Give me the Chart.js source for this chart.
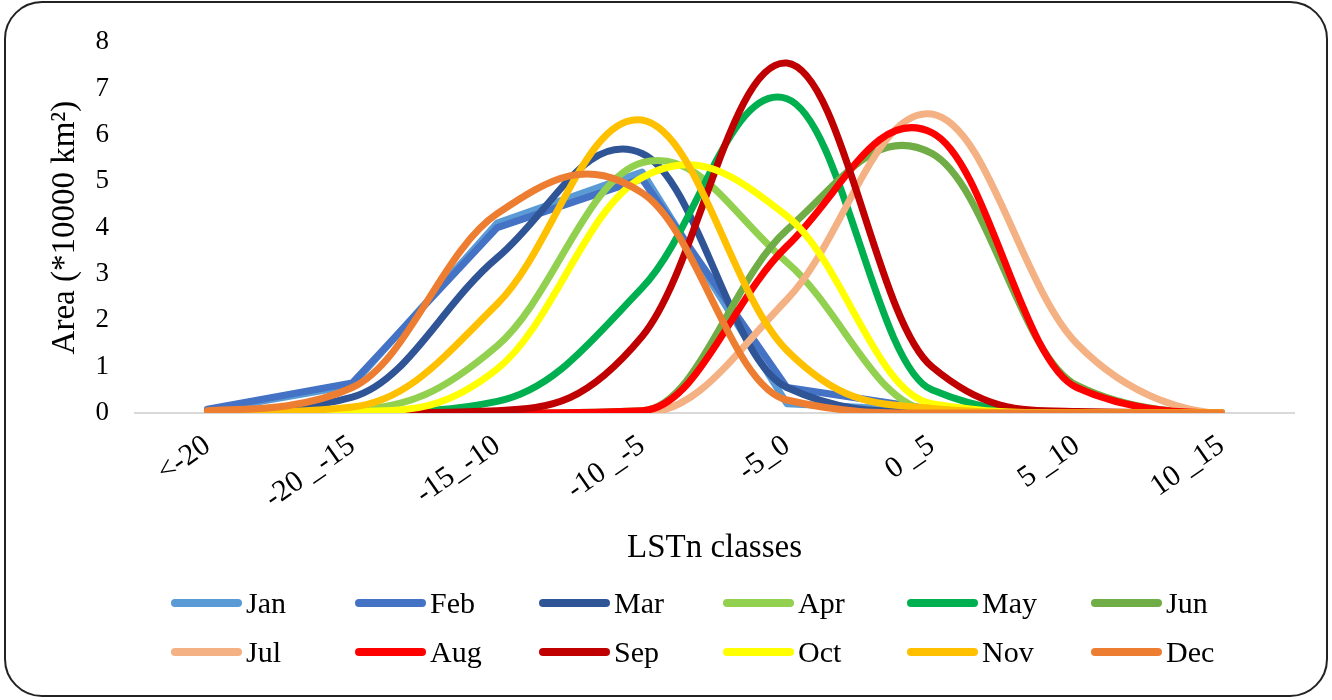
<!DOCTYPE html>
<html><head><meta charset="utf-8">
<script src="https://cdn.jsdelivr.net/npm/chart.js@4.4.1/dist/chart.umd.min.js"></script>
<style>
html,body{margin:0;padding:0;background:#fff;}
#wrap{position:relative;width:1332px;height:700px;overflow:hidden;background:#fff;}
#frame{position:absolute;left:4px;top:1px;width:1320px;height:692px;border:2px solid #222;border-radius:38px;pointer-events:none;}
#c{position:absolute;left:0;top:0;}
#legend{position:absolute;left:0;top:0;width:1332px;height:700px;font-family:"Liberation Serif",serif;font-size:30px;color:#000;pointer-events:none;}
.item{position:absolute;display:flex;align-items:center;height:36px;white-space:nowrap;}
.sw{width:71px;height:8px;border-radius:4px;margin-right:4px;}
</style></head>
<body><div id="wrap"><canvas id="c" width="1332" height="573"></canvas><div id="legend"></div><div id="frame"></div></div>
<script>
const categories = ['<-20', '-20 _-15', '-15_-10', '-10 _-5', '-5_0', '0 _5', '5 _10', '10 _15'];
const months = ['Jan','Feb','Mar','Apr','May','Jun','Jul','Aug','Sep','Oct','Nov','Dec'];
const jan = [0.05, 0.6, 4.1, 5.2, 0.2, 0.05, 0, 0];
const feb = [0.08, 0.65, 4.0, 5.05, 0.55, 0.08, 0, 0];
const mar = [0.03, 0.34, 3.35, 5.6, 0.55, 0.02, 0, 0];
const apr = [0, 0.06, 1.45, 5.4, 3.25, 0.05, 0, 0];
const may = [0, 0.02, 0.25, 2.7, 6.78, 0.5, 0, 0];
const jun = [0, 0, 0, 0.05, 3.95, 5.6, 0.6, 0];
const jul = [0, 0, 0, 0, 2.45, 6.45, 1.5, 0];
const aug = [0, 0, 0, 0.05, 3.6, 6.05, 0.55, 0];
const sep = [0, 0, 0.05, 1.65, 7.55, 1.0, 0.03, 0];
const oct = [0, 0.03, 0.95, 5.08, 4.25, 0.2, 0, 0];
const nov = [0, 0.13, 2.35, 6.32, 1.35, 0.1, 0, 0];
const dec = [0.05, 0.55, 4.3, 4.75, 0.28, 0, 0, 0];
const yTicks = [0, 1, 2, 3, 4, 5, 6, 7, 8];
const seriesValues = [jan, feb, mar, apr, may, jun, jul, aug, sep, oct, nov, dec];
const colors = ['#5B9BD5','#4472C4','#2F5597','#92D050','#00B050','#70AD47','#F4B183','#FF0000','#C00000','#FFFF00','#FFC000','#ED7D31'];
const straight = ['Jan','Feb'];

const FONT = '"Liberation Serif", "Times New Roman", serif';
const SMOOTH = 1.15; // Catmull-Rom style smoothing like a spreadsheet "smoothed line"

const datasets = months.map((m, i) => ({
  label: m,
  data: seriesValues[i],
  borderColor: colors[i],
  backgroundColor: colors[i],
  borderWidth: 7,
  pointRadius: 0,
  pointHoverRadius: 0,
  fill: false,
  tension: straight.includes(m) ? 0 : 0.4,
  borderCapStyle: 'round',
  borderJoinStyle: 'round',
  order: months.length - i
}));

// Recompute the bezier control points of the library's own points uniformly (Catmull-Rom),
// flattening the tangent where needed so the curve never sinks below the zero line.
const uniformSmooth = {
  id: 'uniformSmooth',
  beforeDatasetDraw(chart, args) {
    const meta = args.meta;
    const ds = chart.data.datasets[args.index];
    if (!ds.tension || !meta.dataset) return;
    const area = chart.chartArea;
    meta.dataset.updateControlPoints(area, meta.indexAxis);
    const pts = meta.data;
    const n = pts.length;
    const k = SMOOTH / 6;
    const bottom = area.bottom;
    for (let i = 0; i < n; i++) {
      const p = pts[i];
      const a = pts[Math.max(i - 1, 0)];
      const b = pts[Math.min(i + 1, n - 1)];
      const tx = k * (b.x - a.x);
      let ty = k * (b.y - a.y);
      if (ty !== 0) {
        const room = Math.max(bottom - p.y, 0);
        const s = Math.min(1, room / Math.abs(ty));
        ty *= s;
      }
      p.cp1x = p.x - tx; p.cp1y = p.y - ty;
      p.cp2x = p.x + tx; p.cp2y = p.y + ty;
    }
    meta.dataset._path = undefined;
  }
};

const chart = new Chart(document.getElementById('c'), {
  type: 'line',
  data: { labels: categories, datasets },
  plugins: [uniformSmooth],
  options: {
    responsive: false,
    animation: false,
    events: [],
    layout: { padding: { top: 37, right: 38, left: 0, bottom: 0 } },
    plugins: { legend: { display: false }, tooltip: { enabled: false } },
    scales: {
      x: {
        offset: true,
        grid: { display: false, drawTicks: false },
        border: { display: true, color: '#D9D9D9', width: 2 },
        ticks: {
          autoSkip: false, minRotation: 35, maxRotation: 35, padding: 15,
          color: '#000', font: { family: FONT, size: 30 }
        },
        title: {
          display: true, text: 'LSTn classes', color: '#000',
          font: { family: FONT, size: 33 }, padding: { top: 0, bottom: 5 }
        },
        afterFit: (s) => { s.height = 160; }
      },
      y: {
        min: 0, max: 8,
        afterBuildTicks: (s) => { s.ticks = yTicks.map(v => ({ value: v })); },
        grid: { display: false, drawTicks: false },
        border: { display: false },
        ticks: { padding: 26, color: '#000', font: { family: FONT, size: 27 } },
        title: {
          display: true, text: 'Area (*10000 km²)', color: '#000',
          font: { family: FONT, size: 33 }, padding: { top: 46, bottom: 0 }
        },
        afterFit: (s) => { s.width = 135; }
      }
    }
  }
});

// HTML legend built from the chart's own legend items
const legendEl = document.getElementById('legend');
const items = chart.options.plugins.legend.labels.generateLabels(chart)
  .sort((a, b) => a.datasetIndex - b.datasetIndex);
items.forEach((it, k) => {
  const col = k % 6, row = Math.floor(k / 6);
  const d = document.createElement('div');
  d.className = 'item';
  d.style.left = (171 + 184 * col) + 'px';
  d.style.top = (585 + 49 * row) + 'px';
  const sw = document.createElement('span');
  sw.className = 'sw';
  sw.style.background = it.strokeStyle;
  const t = document.createElement('span');
  t.textContent = it.text;
  d.appendChild(sw); d.appendChild(t);
  legendEl.appendChild(d);
});
</script>
</body></html>
